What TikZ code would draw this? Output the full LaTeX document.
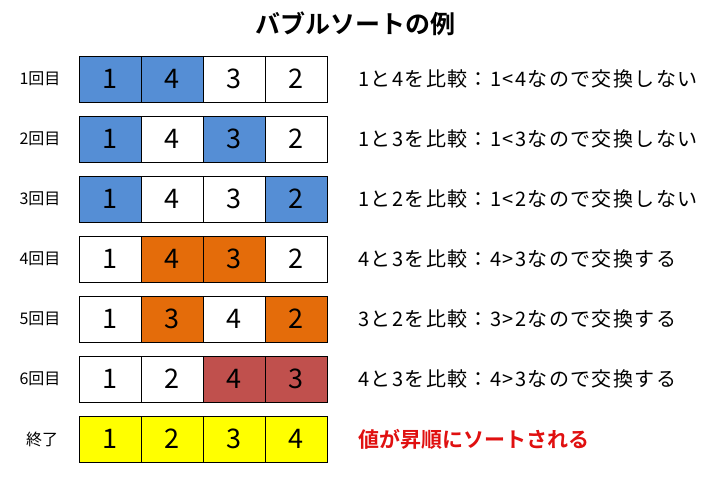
\documentclass[tikz,border=0pt]{standalone}
\usepackage{fontspec}
\newfontfamily\jp{Noto Sans CJK JP}
\newfontfamily\jpw[LetterSpace=7]{Noto Sans CJK JP}
\newfontfamily\jpb{Noto Sans CJK JP Bold}
\definecolor{cblue}{HTML}{558ED5}
\definecolor{corange}{HTML}{E46C0A}
\definecolor{cred}{HTML}{C0504D}
\definecolor{cyel}{HTML}{FFFF00}
\definecolor{txtred}{HTML}{E01010}
\begin{document}
\begin{tikzpicture}[x=1pt,y=-1pt,
  cell/.style={draw=black, line width=0.8pt, minimum width=62pt, minimum height=46pt, inner sep=0pt, font=\jp\fontsize{27}{27}\selectfont},
  rowlab/.style={font=\jp\fontsize{16}{16}\selectfont},
  desc/.style={anchor=west, inner sep=0pt, font=\jpw\fontsize{20}{20}\selectfont},
  result/.style={anchor=west, inner sep=0pt, text=txtred, font=\jpb\fontsize{21}{21}\selectfont},
]
\useasboundingbox[fill=white] (0,0) rectangle (719,479);
\node[font=\jpb\fontsize{25}{25}\selectfont] (title) at (355,24) {バブルソートの例};

\foreach \r/\lab/\a/\b/\c/\d/\fa/\fb/\fc/\fd/\txt in {
  1/1回目/1/4/3/2/cblue/cblue/white/white/1と4を比較：1<4なので交換しない,
  2/2回目/1/4/3/2/cblue/white/cblue/white/1と3を比較：1<3なので交換しない,
  3/3回目/1/4/3/2/cblue/white/white/cblue/1と2を比較：1<2なので交換しない,
  4/4回目/1/4/3/2/white/corange/corange/white/4と3を比較：4>3なので交換する,
  5/5回目/1/3/4/2/white/corange/white/corange/3と2を比較：3>2なので交換する,
  6/6回目/1/2/4/3/white/white/cred/cred/4と3を比較：4>3なので交換する}{
  \pgfmathsetmacro\yy{79+60*(\r-1)}
  \node[rowlab] (lab\r) at (40,\yy) {\lab};
  \node[cell, fill=\fa] (c\r a) at (110,\yy) {\a};
  \node[cell, fill=\fb] (c\r b) at (172,\yy) {\b};
  \node[cell, fill=\fc] (c\r c) at (234,\yy) {\c};
  \node[cell, fill=\fd] (c\r d) at (296,\yy) {\d};
  \node[desc] (t\r) at (358,\yy) {\txt};
}
\node[rowlab] (lab7) at (42,439) {終了};
\node[cell, fill=cyel] (c7a) at (110,439) {1};
\node[cell, fill=cyel] (c7b) at (172,439) {2};
\node[cell, fill=cyel] (c7c) at (234,439) {3};
\node[cell, fill=cyel] (c7d) at (296,439) {4};
\node[result] (t7) at (358,439) {値が昇順にソートされる};
\end{tikzpicture}
\end{document}
